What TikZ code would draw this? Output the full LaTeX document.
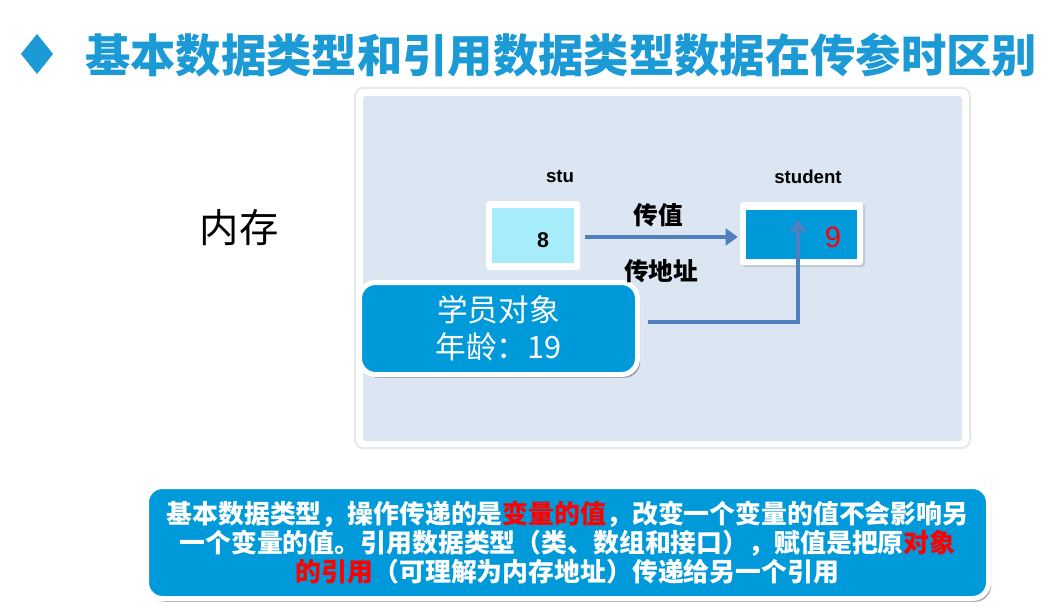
\documentclass[tikz,border=0pt]{standalone}
\usepackage{fontspec}
\setmainfont{Noto Sans CJK SC}
\newfontfamily\lat{Liberation Sans}
\usetikzlibrary{shadows,arrows.meta}
\definecolor{tblue}{HTML}{1B9AD6}
\definecolor{bfill}{HTML}{0099DA}
\definecolor{panelbg}{HTML}{DCE6F2}
\definecolor{cyanbox}{HTML}{A6ECFA}
\definecolor{arrowc}{HTML}{4F7FBD}
\definecolor{pborder}{HTML}{E6E9EE}
\newdimen\px \px=0.75pt
\begin{document}
\begin{tikzpicture}[x=0.75pt,y=-0.75pt,
  frame/.style={fill=white, rounded corners=3\px, inner sep=0pt},
  bluebox/.style={fill=bfill, draw=white, line width=5\px, rounded corners=16\px,
     drop shadow={shadow xshift=2pt, shadow yshift=-2.5pt, opacity=0.45, fill=black!70}},
  arr/.style={draw=arrowc, line width=3.3pt, -{Triangle[length=9pt,width=12.5pt]}},
  varlabel/.style={font=\lat\bfseries\fontsize{14pt}{16pt}\selectfont},
  cnlabel/.style={font=\bfseries\fontsize{18.5pt}{21pt}\selectfont}
]
\useasboundingbox (0,0) rectangle (1043,610);
\fill[white] (0,0) rectangle (1043,610);

% title
\fill[tblue] (37,34) -- (53,54) -- (37,74) -- (21,54) -- cycle;
\node[anchor=west, inner sep=0pt, text=tblue, font={\bfseries\fontsize{34pt}{40pt}\selectfont}] (title) at (85,55) {基本数据类型和引用数据类型数据在传参时区别};

% panel
\node[fill=white, draw=pborder, line width=2\px, rounded corners=8\px, minimum width=615\px, minimum height=360\px, inner sep=0pt] (panel) at (662.5,268) {};
\node[fill=panelbg, rounded corners=3\px, minimum width=599\px, minimum height=345\px, inner sep=0pt] (panelin) at (662.5,268.5) {};

% memory label
\node[font={\fontsize{29.5pt}{34pt}\selectfont}] (mem) at (239,228) {内存};

% stu
\node[varlabel] (stulabel) at (560,177) {stu};
\node[frame, minimum width=94\px, minimum height=69\px] (stuframe) at (533,235.5) {};
\node[fill=cyanbox, minimum width=82\px, minimum height=55\px, inner sep=0pt] (stu) at (533,235.5) {};
\node[font=\lat\bfseries\fontsize{16pt}{18pt}\selectfont] (v8) at (543,240) {8};

% student
\node[varlabel] (studentlabel) at (808,177) {student};
\node[frame, minimum width=123\px, minimum height=63\px,
  drop shadow={shadow xshift=1.5pt, shadow yshift=-1.5pt, opacity=0.3}] (studentframe) at (801.5,233.5) {};
\node[fill=bfill, minimum width=111\px, minimum height=49\px, inner sep=0pt] (student) at (801.5,234.5) {};
\node[text=red, font=\lat\fontsize{22pt}{24pt}\selectfont] (v9) at (833,237) {9};

% object
\node[bluebox, minimum width=278\px, minimum height=92\px, text=white, align=center,
  font={\fontsize{23pt}{27.5pt}\selectfont}] (obj) at (498.5,328.5) {学员对象\\年龄：19};

% arrows
\draw[arr] ([shift={(5,1.5)}]stuframe.east) -- ([shift={(-2,3.5)}]studentframe.west);
\node[cnlabel] (l1) at (658,215) {传值};
\node[cnlabel] (l2) at (661,271) {传地址};
\draw[arr] ([shift={(8,-6.5)}]obj.east) -| ([shift={(-3.5,-15)}]student.center);

% bottom note
\node[bluebox, minimum width=842\px, minimum height=112\px, text=white, align=center,
  font={\bfseries\fontsize{19.4pt}{21.5pt}\selectfont}] (note) at (567.5,542.5)
  {基本数据类型，操作传递的是\textcolor{red}{变量的值}，改变一个变量的值不会影响另\\
   一个变量的值。引用数据类型（类、数组和接口），赋值是把原\textcolor{red}{对象}\\
   \textcolor{red}{的引用}（可理解为内存地址）传递给另一个引用};
\end{tikzpicture}
\end{document}
